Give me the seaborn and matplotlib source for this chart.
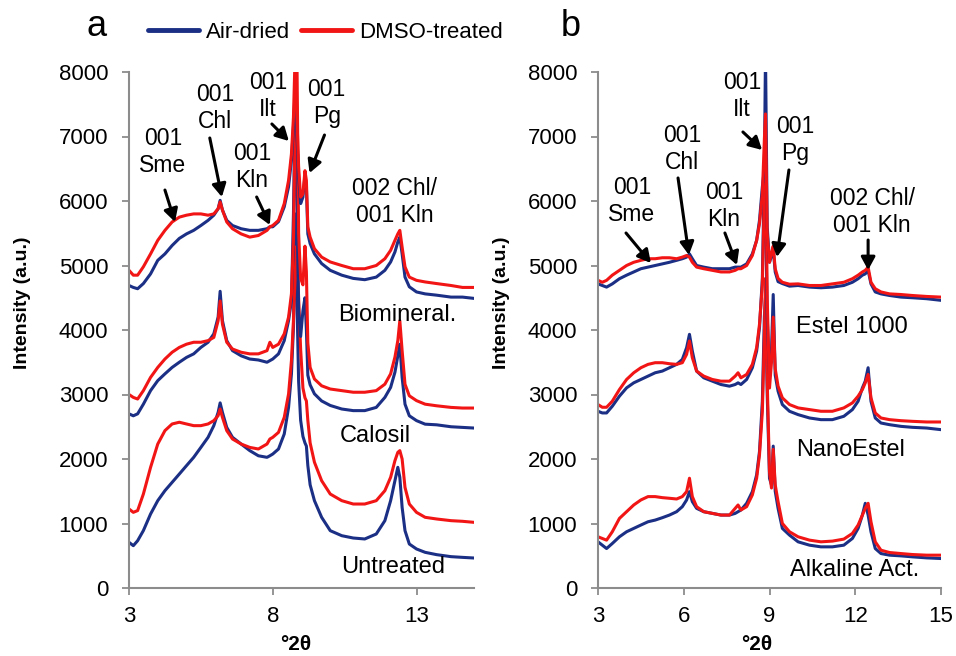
import numpy as np
import pandas as pd
import matplotlib
matplotlib.use("Agg")
import matplotlib.pyplot as plt
import seaborn as sns
from matplotlib.lines import Line2D

sns.set_theme(style="white")
plt.rcParams["font.family"] = ["Liberation Sans", "DejaVu Sans"]
plt.rcParams["text.color"] = "black"

AIR = "#1b2f85"
DMSO = "#f21515"

# ----------------------------------------------------------------------
# Data (2theta grid + intensity per sample)
# ----------------------------------------------------------------------
xa = [3.0, 3.15, 3.3, 3.5, 3.75, 4.0, 4.25, 4.5, 4.75, 5.0,
      5.25, 5.5, 5.75, 5.95, 6.1, 6.17, 6.25, 6.4, 6.6, 6.9,
      7.2, 7.5, 7.8, 7.9, 8.0, 8.2, 8.4, 8.55, 8.65, 8.72,
      8.78, 8.84, 8.9, 8.97, 9.05, 9.12, 9.17, 9.22, 9.3, 9.45,
      9.7, 10.0, 10.4, 10.8, 11.2, 11.6, 11.9, 12.1, 12.25, 12.35,
      12.42, 12.5, 12.6, 12.75, 13.0, 13.3, 13.7, 14.2, 14.6, 15.0]

bio_air = [4690, 4660, 4640, 4720, 4870, 5080, 5180, 5310, 5420, 5490,
           5545, 5620, 5700, 5780, 5880, 6010, 5860, 5700, 5620, 5570,
           5545, 5545, 5570, 5600, 5600, 5680, 5910, 6220, 6630, 7150,
           7750, 7040, 6370, 5960, 6060, 6400, 6220, 5490, 5340, 5180,
           5030, 4925, 4850, 4800, 4780, 4820, 4925, 5055, 5210, 5365,
           5440, 5180, 4820, 4670, 4590, 4560, 4540, 4510, 4510, 4490]
bio_dmso = [4925, 4850, 4850, 4980, 5180, 5390, 5545, 5675, 5750, 5780,
            5800, 5800, 5780, 5800, 5880, 5985, 5860, 5675, 5570, 5490,
            5440, 5465, 5545, 5600, 5620, 5700, 5960, 6320, 6730, 7300,
            8300, 7300, 6530, 6060, 6110, 6470, 6320, 5600, 5440, 5260,
            5130, 5055, 5000, 4950, 4950, 5000, 5105, 5235, 5390, 5490,
            5545, 5285, 4980, 4820, 4770, 4745, 4720, 4690, 4660, 4660]
cal_air = [2700, 2670, 2700, 2850, 3060, 3215, 3320, 3420, 3500, 3575,
           3630, 3730, 3810, 3940, 4200, 4600, 4145, 3835, 3680, 3600,
           3550, 3535, 3500, 3525, 3550, 3630, 3835, 4145, 4455, 5800,
           7600, 6000, 4300, 3900, 4300, 4500, 4000, 3300, 3150, 3010,
           2900, 2830, 2775, 2750, 2750, 2800, 2955, 3110, 3345, 3600,
           3780, 3265, 2850, 2670, 2595, 2540, 2530, 2500, 2490, 2480]
cal_dmso = [3000, 2955, 2930, 3060, 3265, 3420, 3550, 3655, 3730, 3780,
            3810, 3810, 3835, 3885, 4145, 4450, 4090, 3810, 3705, 3655,
            3630, 3630, 3680, 3810, 3730, 3780, 3940, 4200, 4560, 5400,
            7200, 8300, 5500, 4800, 4700, 5300, 4900, 3800, 3420, 3240,
            3135, 3085, 3060, 3035, 3035, 3060, 3160, 3320, 3580, 3835,
            4145, 3680, 3160, 2980, 2905, 2850, 2825, 2800, 2790, 2790]
unt_air = [708, 656, 733, 890, 1147, 1354, 1509, 1638, 1767, 1897,
           2026, 2180, 2336, 2517, 2723, 2870, 2723, 2490, 2336, 2232,
           2130, 2050, 2026, 2050, 2077, 2155, 2388, 2800, 3318, 4040,
           5800, 4500, 3200, 2600, 2350, 2250, 2200, 1900, 1600, 1354,
           1096, 889, 811, 775, 760, 837, 1044, 1354, 1664, 1871,
           1716, 1250, 889, 682, 605, 553, 517, 486, 475, 465]
unt_dmso = [1225, 1173, 1200, 1457, 1870, 2232, 2440, 2543, 2570, 2543,
            2517, 2517, 2543, 2595, 2672, 2775, 2646, 2440, 2310, 2232,
            2180, 2155, 2232, 2310, 2336, 2413, 2646, 3008, 3525, 4145,
            4900, 5300, 4500, 3700, 3100, 2950, 2900, 2600, 2250, 1950,
            1664, 1457, 1354, 1302, 1302, 1354, 1509, 1716, 1974, 2103,
            2130, 2000, 1560, 1302, 1173, 1096, 1070, 1044, 1034, 1018]

xb = [3.0, 3.15, 3.3, 3.5, 3.75, 4.0, 4.25, 4.5, 4.75, 5.0,
      5.25, 5.5, 5.75, 5.95, 6.1, 6.2, 6.3, 6.45, 6.7, 7.0,
      7.3, 7.6, 7.8, 7.9, 8.0, 8.2, 8.4, 8.55, 8.65, 8.75,
      8.82, 8.86, 8.92, 9.0, 9.07, 9.13, 9.2, 9.3, 9.45, 9.7,
      10.0, 10.4, 10.8, 11.2, 11.6, 11.9, 12.1, 12.25, 12.35, 12.45,
      12.55, 12.7, 12.9, 13.2, 13.6, 14.0, 14.5, 15.0]

est_air = [4715, 4690, 4665, 4715, 4795, 4850, 4900, 4950, 4975, 5000,
           5025, 5050, 5080, 5105, 5130, 5180, 5105, 5000, 4975, 4950,
           4950, 4950, 4975, 4975, 4975, 5025, 5180, 5390, 5700, 6220,
           6500, 8300, 5600, 5050, 5150, 5250, 4900, 4750, 4720, 4680,
           4690, 4665, 4655, 4665, 4690, 4740, 4795, 4850, 4870, 4925,
           4715, 4590, 4560, 4535, 4510, 4500, 4485, 4460]
est_dmso = [4770, 4740, 4770, 4850, 4925, 5000, 5050, 5080, 5105, 5105,
            5120, 5120, 5105, 5130, 5155, 5130, 5050, 4975, 4950, 4925,
            4900, 4900, 4925, 4950, 4950, 5000, 5155, 5390, 5650, 6110,
            6950, 7350, 5500, 5050, 5200, 5300, 4950, 4800, 4740, 4710,
            4715, 4690, 4690, 4715, 4740, 4795, 4850, 4900, 4925, 4975,
            4740, 4640, 4590, 4560, 4550, 4535, 4520, 4510]
nano_air = [2740, 2714, 2714, 2818, 2974, 3103, 3181, 3233, 3285, 3337,
            3363, 3415, 3467, 3544, 3726, 3933, 3674, 3363, 3259, 3207,
            3155, 3129, 3155, 3181, 3155, 3233, 3415, 3674, 4037, 4800,
            6500, 6000, 4200, 3300, 3700, 4550, 3300, 3051, 2844, 2740,
            2688, 2636, 2610, 2610, 2662, 2766, 2896, 3103, 3207, 3415,
            2896, 2636, 2558, 2532, 2506, 2491, 2480, 2455]
nano_dmso = [2844, 2802, 2802, 2896, 3077, 3233, 3337, 3415, 3467, 3493,
             3493, 3477, 3467, 3493, 3622, 3830, 3570, 3363, 3285, 3233,
             3207, 3207, 3285, 3337, 3259, 3311, 3467, 3726, 4089, 4700,
             6100, 7000, 4500, 3100, 3500, 4200, 3400, 3129, 2948, 2844,
             2792, 2766, 2740, 2740, 2792, 2870, 2974, 3077, 3181, 3311,
             2948, 2714, 2636, 2610, 2594, 2584, 2574, 2574]
alk_air = [716, 664, 612, 690, 794, 872, 924, 976, 1027, 1053,
           1090, 1131, 1183, 1261, 1365, 1494, 1339, 1235, 1183, 1157,
           1131, 1131, 1157, 1183, 1209, 1313, 1494, 1754, 2117, 2896,
           4200, 4500, 3000, 1700, 1600, 2200, 1500, 1235, 924, 820,
           716, 664, 638, 638, 664, 768, 924, 1131, 1313, 1131,
           872, 612, 534, 509, 498, 483, 467, 457]
alk_dmso = [794, 768, 742, 872, 1079, 1183, 1287, 1365, 1417, 1417,
            1401, 1391, 1380, 1417, 1494, 1702, 1417, 1261, 1183, 1157,
            1131, 1131, 1235, 1287, 1209, 1261, 1443, 1702, 2065, 2740,
            3900, 4800, 3200, 1800, 1550, 2150, 1600, 1339, 1001, 872,
            794, 742, 716, 727, 758, 846, 976, 1131, 1235, 1313,
            1027, 716, 586, 550, 534, 519, 509, 509]

panel_a = {"Untreated": (unt_air, unt_dmso),
           "Calosil": (cal_air, cal_dmso),
           "Biomineral.": (bio_air, bio_dmso)}
panel_b = {"Alkaline Act.": (alk_air, alk_dmso),
           "NanoEstel": (nano_air, nano_dmso),
           "Estel 1000": (est_air, est_dmso)}


def long_form(x, samples):
    rows = []
    for name, (air, dmso) in samples.items():
        rows.append(pd.DataFrame({"theta": x, "intensity": air,
                                  "sample": name, "treatment": "Air-dried"}))
        rows.append(pd.DataFrame({"theta": x, "intensity": dmso,
                                  "sample": name, "treatment": "DMSO-treated"}))
    return pd.concat(rows, ignore_index=True)


df_a = long_form(xa, panel_a)
df_b = long_form(xb, panel_b)

# ----------------------------------------------------------------------
# Figure
# ----------------------------------------------------------------------
fig = plt.figure(figsize=(9.56, 6.56), dpi=100)
ax_a = fig.add_axes([129 / 956, 1 - 588 / 656, 345 / 956, 516 / 656])
ax_b = fig.add_axes([598 / 956, 1 - 588 / 656, 343 / 956, 516 / 656])

palette = {"Air-dried": AIR, "DMSO-treated": DMSO}
for ax, df in [(ax_a, df_a), (ax_b, df_b)]:
    for name in df["sample"].unique():
        sns.lineplot(data=df[df["sample"] == name], x="theta", y="intensity",
                     hue="treatment", palette=palette, estimator=None,
                     sort=False, legend=False, lw=2.2, ax=ax)
    ax.set_xlim(3, 15)
    ax.set_ylim(0, 8000)
    ax.set_yticks(np.arange(0, 8001, 1000))
    ax.set_xlabel("")
    ax.set_ylabel("")
    for side in ["top", "right"]:
        ax.spines[side].set_visible(False)
    for side in ["left", "bottom"]:
        ax.spines[side].set_color("#8c8c8c")
        ax.spines[side].set_linewidth(1.5)
    ax.tick_params(axis="both", direction="out", length=5, width=1.3,
                   color="#8c8c8c", labelcolor="black", labelsize=16,
                   bottom=True, left=True)
    ax.tick_params(axis="x", pad=8)
    ax.tick_params(axis="y", pad=10)

ax_a.set_xticks([3, 8, 13])
ax_b.set_xticks([3, 6, 9, 12, 15])


def label(ax, text, xy, tail=None, head=None, size=16.5):
    ax.text(xy[0], xy[1], text, ha="center", va="center", fontsize=size,
            linespacing=1.2)
    if tail is not None:
        ax.annotate("", xy=head, xytext=tail,
                    arrowprops=dict(arrowstyle="-|>,head_length=0.55,head_width=0.3",
                                    color="black", lw=2.2, shrinkA=0, shrinkB=0,
                                    mutation_scale=14))


# panel a peak labels
label(ax_a, "001\nSme", (4.18, 6760), (4.25, 6170), (4.6, 5675))
label(ax_a, "001\nChl", (5.99, 7440), (5.81, 6977), (6.23, 6062))
label(ax_a, "001\nKln", (7.27, 6527), (7.44, 6062), (7.9, 5628))
label(ax_a, "001\nIlt", (7.83, 7628), (7.97, 7194), (8.56, 6930))
label(ax_a, "001\nPg", (9.875, 7519), (9.8, 7023), (9.28, 6434))
label(ax_a, "002 Chl/\n001 Kln", (12.24, 5984))
label(ax_a, "Biomineral.", (12.34, 4233), size=17)
label(ax_a, "Calosil", (11.58, 2357), size=17)
label(ax_a, "Untreated", (12.17, 326), size=17)

# panel b peak labels
label(ax_b, "001\nSme", (4.19, 6000), (3.98, 5504), (4.85, 5039))
label(ax_b, "001\nChl", (5.94, 6806), (5.80, 6357), (6.18, 5163))
label(ax_b, "001\nKln", (7.41, 5922), (7.44, 5504), (7.86, 5008))
label(ax_b, "001\nIlt", (8.04, 7628), (8.07, 7070), (8.74, 6791))
label(ax_b, "001\nPg", (9.89, 6946), (9.68, 6481), (9.26, 5132))
label(ax_b, "002 Chl/\n001 Kln", (12.59, 5829), (12.45, 5395), (12.45, 4930))
label(ax_b, "Estel 1000", (11.89, 4047), size=17)
label(ax_b, "NanoEstel", (11.82, 2140), size=17)
label(ax_b, "Alkaline Act.", (11.99, 279), size=17)

# axis titles
for xpix in (23, 502):
    fig.text(xpix / 956, 1 - 303 / 656, "Intensity (a.u.)", rotation=90,
             fontsize=14, fontweight="bold", ha="center", va="center")
for xpix in (296, 757):
    fig.text(xpix / 956, 1 - 645 / 656, "°2θ", fontsize=15,
             fontweight="bold", ha="center", va="center")

# panel letters
fig.text(97 / 956, 1 - 36 / 656, "a", fontsize=26, ha="center", va="baseline")
fig.text(571 / 956, 1 - 36 / 656, "b", fontsize=26, ha="center", va="baseline")

# legend
handles = [Line2D([], [], color=AIR, lw=3.5), Line2D([], [], color=DMSO, lw=3.5)]
fig.legend(handles, ["Air-dried", "DMSO-treated"], loc="center left",
           bbox_to_anchor=(148 / 956, 1 - 32 / 656), ncol=2, frameon=False,
           fontsize=16, handlelength=2.3, handletextpad=0.3,
           columnspacing=0.5, borderaxespad=0, borderpad=0)

fig.savefig("out.png", dpi=100)
